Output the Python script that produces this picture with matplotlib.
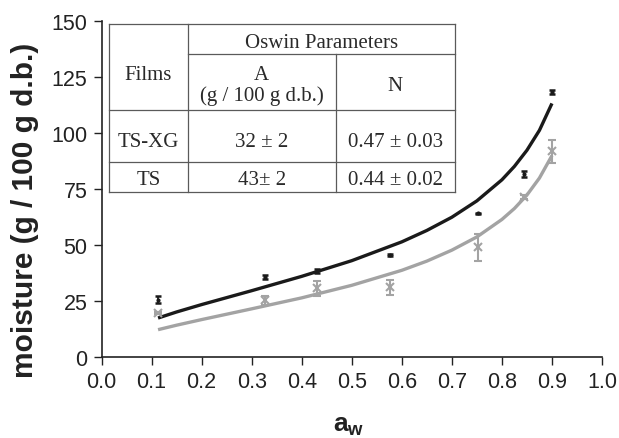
import matplotlib
matplotlib.use("Agg")
import matplotlib.pyplot as plt
from matplotlib.lines import Line2D

# ---------------- data ----------------
aw_pts = [0.113, 0.327, 0.431, 0.576, 0.752, 0.844, 0.900]
tsxg_vals = [25.6, 35.6, 38.3, 45.7, 64.1, 81.7, 118.4]
tsxg_err = [1.5, 1.0, 1.0, 0.5, 0.3, 1.5, 0.8]
ts_vals = [19.5, 25.4, 30.7, 31.1, 49.0, 71.3, 91.8]
ts_err = [0.5, 2.0, 3.3, 3.3, 6.0, 0.8, 5.0]

curve_aw = [0.113, 0.15, 0.2, 0.3, 0.4, 0.5, 0.6, 0.65, 0.7, 0.75, 0.8, 0.825, 0.85, 0.875, 0.9]
curve_black = [17.4, 20.1, 23.4, 29.6, 36.0, 43.0, 51.4, 56.5, 62.4, 69.7, 79.1, 85.1, 92.3, 101.2, 113.2]
curve_gray = [12.2, 14.2, 16.7, 21.5, 26.4, 32.0, 38.7, 42.8, 47.7, 53.6, 61.4, 66.3, 72.3, 79.9, 89.9]

xticks = [0.0, 0.1, 0.2, 0.3, 0.4, 0.5, 0.6, 0.7, 0.8, 0.9, 1.0]
yticks = [0, 25, 50, 75, 100, 125, 150]

table_header = ["Films", "Oswin Parameters", "A", "(g / 100 g d.b.)", "N"]
table_films = ["TS-XG", "TS"]
table_A = ["32 \u00b1 2", "43\u00b1 2"]
table_N = ["0.47 \u00b1 0.03", "0.44 \u00b1 0.02"]

# ---------------- figure ----------------
W, H = 619, 439
plt.rcParams['mathtext.fontset'] = 'custom'
plt.rcParams['mathtext.bf'] = 'Liberation Sans:bold'
plt.rcParams['mathtext.rm'] = 'Liberation Sans'

fig = plt.figure(figsize=(W / 100, H / 100), dpi=100)
x0, x1 = 101.5, 602.0
y0, y1 = 358.0, 22.0
ax = fig.add_axes([x0 / W, 1 - y0 / H, (x1 - x0) / W, (y0 - y1) / H])

black = '#1a1a1a'
gray = '#a3a3a3'

ax.plot(curve_aw, curve_black, color=black, lw=2.4, solid_capstyle='butt', zorder=3)
ax.plot(curve_aw, curve_gray, color=gray, lw=2.4, solid_capstyle='butt', zorder=2)

ax.errorbar(aw_pts, ts_vals, yerr=ts_err, fmt='x', color=gray, ms=6, mew=1.5,
            elinewidth=1.5, capsize=3, capthick=1.5, zorder=4)
ax.errorbar(aw_pts, tsxg_vals, yerr=tsxg_err, fmt='o', color=black, ms=2,
            elinewidth=1.3, capsize=2.5, capthick=1.8, zorder=5)

ax.set_xlim(0, 1.0)
ax.set_ylim(0, 150)
ax.set_xticks(xticks)
ax.set_xticklabels([f"{v:.1f}" for v in xticks])
ax.set_yticks(yticks)
ax.set_yticklabels([str(v) for v in yticks])
for s in ['top', 'right']:
    ax.spines[s].set_visible(False)
for s in ['left', 'bottom']:
    ax.spines[s].set_linewidth(1.2)
    ax.spines[s].set_color('#222222')
ax.tick_params(direction='out', length=6, width=1.0, color='#222222',
               labelsize=15.5, labelcolor='#222222', pad=4)
for lbl in ax.get_xticklabels() + ax.get_yticklabels():
    lbl.set_family('Liberation Sans')

ax.set_ylabel('moisture (g / 100 g d.b.)', fontsize=21.5, fontweight='bold',
              family='Liberation Sans', color='#222222', va='center')
ax.yaxis.set_label_coords(-(x0 - 25) / (x1 - x0), (y0 - 210) / (y0 - y1))
ax.set_xlabel(r'$\mathbf{a_w}$', fontsize=19, color='#222222', va='center')
ax.xaxis.set_label_coords((349 - x0) / (x1 - x0), -(425 - y0) / (y0 - y1))

# ---------------- table (drawn in figure pixel coords) ----------------
def fx(px):
    return px / W

def fy(py):
    return 1 - py / H

tl, tc1, tc2, tr = 109.3, 187.7, 335.7, 455.0
tt, th1, th2, tm, tb = 25.0, 55.0, 111.0, 163.3, 193.3
lc = '#5a5a5a'
lw = 0.9

def hline(y, xa, xb):
    fig.add_artist(Line2D([fx(xa), fx(xb)], [fy(y), fy(y)], color=lc, lw=lw,
                          transform=fig.transFigure))

def vline(x, ya, yb):
    fig.add_artist(Line2D([fx(x), fx(x)], [fy(ya), fy(yb)], color=lc, lw=lw,
                          transform=fig.transFigure))

for y in [tt, th2, tm, tb]:
    hline(y, tl, tr)
hline(th1, tc1, tr)
vline(tl, tt, tb)
vline(tr, tt, tb)
vline(tc1, tt, tb)
vline(tc2, th1, tb)

tkw = dict(family='Liberation Serif', fontsize=15, color='#2a2a2a',
           ha='center', va='baseline', transform=fig.transFigure)
cF = (tl + tc1) / 2
cA = (tc1 + tc2) / 2
cN = (tc2 + tr) / 2
cO = (tc1 + tr) / 2
fig.text(fx(cF), fy(80), table_header[0], **tkw)
fig.text(fx(cO), fy(48.3), table_header[1], **tkw)
fig.text(fx(cA), fy(80), table_header[2], **tkw)
fig.text(fx(cA), fy(101), table_header[3], **tkw)
fig.text(fx(cN), fy(91), table_header[4], **tkw)
for i, yb in enumerate([146.7, 185.0]):
    fig.text(fx(cF), fy(yb), table_films[i], **tkw)
    fig.text(fx(cA), fy(yb), table_A[i], **tkw)
    fig.text(fx(cN), fy(yb), table_N[i], **tkw)

fig.savefig('out.png', dpi=100)
